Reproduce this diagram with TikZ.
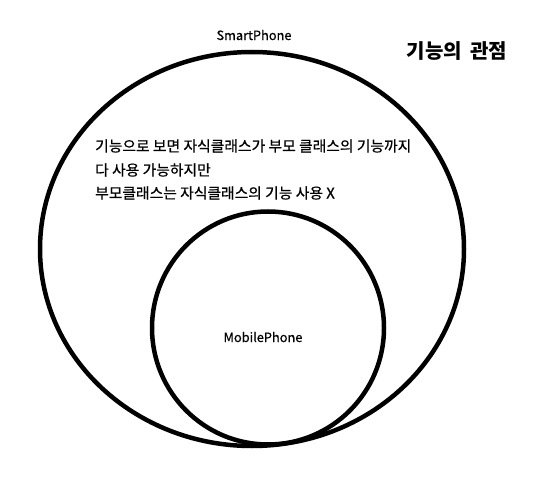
\documentclass[tikz,border=0pt]{standalone}
\usepackage{fontspec}
\newfontfamily\kr[FakeBold=0.6]{Noto Sans CJK KR}
\newfontfamily\krhead{Noto Sans CJK KR}
\usetikzlibrary{shapes.geometric,positioning}

\begin{document}
\begin{tikzpicture}[
  x=1pt, y=-1pt,
  ring/.style={ellipse, draw, line width=4.5pt, inner sep=0pt},
  label/.style={font=\kr\fontsize{12.8}{14}\selectfont},
  line/.style={font=\kr\fontsize{14.8}{16}\selectfont, anchor=west, inner sep=0pt}
]
\useasboundingbox (0,0) rectangle (557,481);

\node[ring, minimum width=424pt, minimum height=394pt] (smart) at (252,249) {};
\node[ring, minimum width=232pt, minimum height=233pt] (mobile) at (268,328) {};

\node[label] (smartname) at (254,35) {SmartPhone};
\node[label] (mobilename) at (263,337) {MobilePhone};
\node[font=\krhead\bfseries\fontsize{20}{22}\selectfont] (title) at (457,51) {기능의\hspace{4pt} 관점};

\node[line] (first) at (95,146) {기능으로 보면 자식클래스가 부모 클래스의 기능까지};
\node[line] (second) at (95,170) {다 사용 가능하지만};
\node[line] (third) at (95,193) {부모클래스는 자식클래스의 기능 사용 X};

\end{tikzpicture}
\end{document}
